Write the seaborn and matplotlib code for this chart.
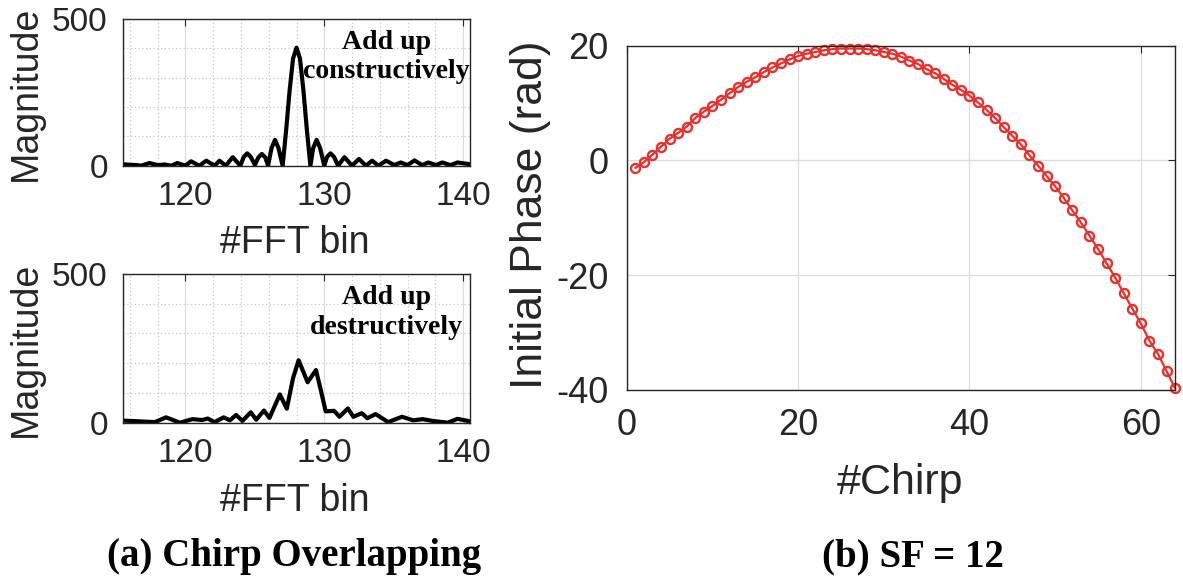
import numpy as np
import pandas as pd
import matplotlib
matplotlib.use("Agg")
import matplotlib.pyplot as plt
from matplotlib.ticker import MultipleLocator
import seaborn as sns

# (a) FFT magnitude, chirps adding up constructively
bins_con = [115.5, 116.0, 116.5, 116.8, 117.4, 118.0, 118.5, 119.0, 119.4, 120.0,
            120.4, 121.0, 121.5, 122.1, 122.45, 122.9, 123.4, 123.95, 124.2, 124.45,
            124.7, 125.0, 125.25, 125.5, 125.75, 125.95, 126.2, 126.45, 126.7, 127.0,
            127.25, 127.5, 127.75, 128.0, 128.25, 128.5, 128.75, 129.0, 129.2, 129.45,
            129.7, 130.0, 130.2, 130.45, 130.7, 131.0, 131.45, 132.0, 132.5, 133.0,
            133.45, 133.9, 134.45, 135.05, 135.5, 136.0, 136.5, 137.05, 137.5, 138.05,
            138.5, 139.1, 139.6, 140.5]
mag_con = [5, 3, 2, 0, 9, 2, 4, 0, 9, 0,
           15, 0, 17, 0, 17, 0, 29, 0, 30, 42,
           30, 3, 28, 40, 28, 0, 60, 88, 60, 0,
           120, 255, 365, 402, 365, 255, 120, 0, 60, 88,
           60, 0, 30, 42, 30, 0, 29, 0, 23, 0,
           17, 0, 17, 2, 11, 2, 18, 2, 11, 2,
           11, 2, 11, 5]

# (a) FFT magnitude, chirps adding up destructively
bins_des = [115.5, 116.5, 117.8, 118.6, 119.6, 120.5, 121.2, 121.6, 122.1, 122.75,
            123.2, 123.65, 124.1, 124.7, 125.1, 125.65, 126.05, 126.8, 127.3, 127.75,
            128.15, 128.8, 129.4, 129.75, 130.1, 130.7, 131.1, 131.7, 132.1, 132.7,
            133.1, 133.7, 134.6, 135.6, 136.4, 137.1, 137.8, 138.9, 139.6, 140.45]
mag_des = [7, 5, 2, 18, 0, 12, 9, 14, 2, 18,
           8, 26, 6, 35, 10, 41, 16, 95, 47, 150,
           210, 136, 177, 110, 38, 40, 20, 48, 20, 32,
           15, 29, 2, 20, 8, 12, 6, 0, 13, 5]

# (b) initial phase per chirp, SF = 12
chirp_idx = list(range(1, 65))
phase = [-1.3, -0.3, 1.0, 2.4, 3.8, 4.8, 5.9, 7.4, 8.5, 9.5,
         10.6, 11.7, 12.8, 13.7, 14.5, 15.4, 16.2, 16.9, 17.6, 18.2,
         18.6, 18.9, 19.2, 19.4, 19.5, 19.5, 19.5, 19.4, 19.2, 18.9,
         18.6, 18.1, 17.4, 16.8, 15.9, 15.2, 14.2, 13.2, 12.3, 11.3,
         10.1, 8.8, 7.4, 5.8, 4.3, 2.8, 0.9, -0.9, -2.7, -4.5,
         -6.5, -8.7, -10.8, -13.1, -15.4, -17.9, -20.4, -23.1, -25.8, -28.4,
         -31.4, -33.7, -36.7, -39.7]

fft_ticks = [120, 130, 140]
phase_xticks = [0, 20, 40, 60]
phase_yticks = [-40, -20, 0, 20]

sns.set_style("white")
plt.rcParams["font.family"] = ["Liberation Sans", "DejaVu Sans"]
plt.rcParams["axes.unicode_minus"] = False
plt.rcParams["text.color"] = "#262626"
plt.rcParams["axes.labelcolor"] = "#262626"
SERIF = ["Liberation Serif", "DejaVu Serif"]
RED = "#e8302c"


def matlab_box(ax, tick_size, pad):
    for sp in ax.spines.values():
        sp.set_color("#262626")
        sp.set_linewidth(1.0)
    ax.tick_params(which="major", direction="in", length=5, width=0.8,
                   top=True, right=True, labelsize=tick_size, pad=pad,
                   colors="#262626", labelcolor="#262626")
    ax.tick_params(which="minor", length=0)


def fft_panel(ax, x, y, note, label_y):
    sns.lineplot(x=x, y=y, color="black", lw=3.0, ax=ax)
    ax.set_xlim(115.5, 140.5)
    ax.set_ylim(0, 500)
    ax.set_xticks(fft_ticks)
    ax.set_yticks([0, 500])
    ax.xaxis.set_minor_locator(MultipleLocator(2))
    ax.yaxis.set_minor_locator(MultipleLocator(100))
    ax.grid(which="major", color="#dcdcdc", lw=0.9)
    ax.grid(which="minor", color="#c8c8c8", lw=0.9, ls=(0, (1, 2)))
    matlab_box(ax, 24, 11)
    ax.set_xlabel("#FFT bin", fontsize=27, va="center")
    ax.set_ylabel("Magnitude", fontsize=27, va="center")
    ax.xaxis.set_label_coords(0.496, label_y)
    ax.yaxis.set_label_coords(-0.28, 0.49)
    ax.text(134.5, 370, note, ha="center", va="center", fontsize=20,
            fontweight="bold", family=SERIF, linespacing=1.25, color="black")


fig = plt.figure(figsize=(11.83, 5.82), dpi=100)
ax1 = fig.add_axes([0.104, 0.7153, 0.2933, 0.2521])
ax2 = fig.add_axes([0.104, 0.2737, 0.2933, 0.2555])
ax3 = fig.add_axes([0.5298, 0.3299, 0.4635, 0.5916])

fft_panel(ax1, bins_con, mag_con, "Add up\nconstructively", -0.53)
fft_panel(ax2, bins_des, mag_des, "Add up\ndestructively", -0.525)

# right panel: phase vs chirp
df = pd.DataFrame({"chirp": chirp_idx, "phase": phase})
sns.lineplot(data=df, x="chirp", y="phase", color=RED, lw=1.6, marker="o",
             ms=6.5, mfc="none", mec=RED, mew=1.7, ax=ax3, clip_on=False)
ax3.set_xlim(0, 64)
ax3.set_ylim(-40, 20)
ax3.set_xticks(phase_xticks)
ax3.set_yticks(phase_yticks)
ax3.grid(which="major", color="#dcdcdc", lw=0.9)
matlab_box(ax3, 26, 13)
ax3.set_xlabel("#Chirp", fontsize=31, va="center")
ax3.set_ylabel("Initial Phase (rad)", fontsize=32, va="center")
ax3.xaxis.set_label_coords(0.498, -0.27)
ax3.yaxis.set_label_coords(-0.176, 0.508)

fig.text(0.2485, 0.043, "(a) Chirp Overlapping", ha="center", va="center",
         fontsize=28, fontweight="bold", family=SERIF, color="black")
fig.text(0.7718, 0.043, "(b) SF = 12", ha="center", va="center",
         fontsize=28, fontweight="bold", family=SERIF, color="black")

fig.savefig("out.png", dpi=100)
